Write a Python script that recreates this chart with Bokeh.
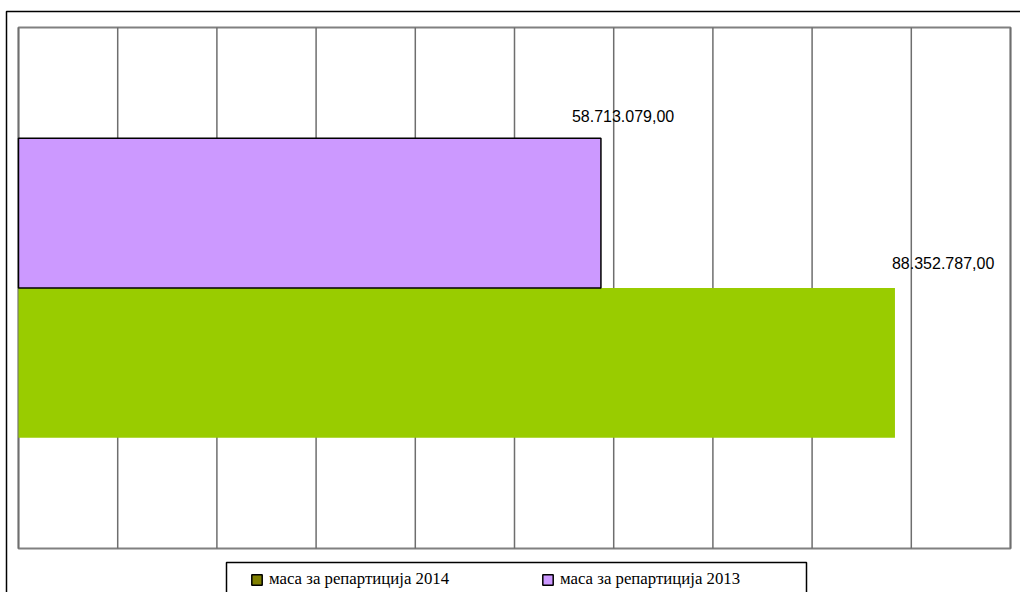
import numpy as np
from bokeh.plotting import figure
from bokeh.models import ColumnDataSource, Range1d, Legend, LegendItem
from bokeh.core.properties import value
from bokeh.embed import file_html
from bokeh.resources import INLINE

# ---- data ----
series_names = ["маса за репартиција 2014", "маса за репартиција 2013"]
categories = ["2014", "2013"]
amounts = [88352787.00, 58713079.00]
amount_labels = ["88.352.787,00", "58.713.079,00"]
bar_colors = ["#99CC00", "#CC99FF"]
legend_colors = ["#808000", "#CC99FF"]
x_max = 100_000_000
x_grid_ticks = [i * 10_000_000 for i in range(11)]

# ---- layout / styles ----
W, H = 1020, 592
PL, PR, PT, PB = 18, 1010, 27, 548          # plot-area box in pixels
cat_pad = 0.74                               # empty space above/below the bars (in bar heights)
bar_line_alpha = [0.0, 1.0]
label_dx = [-3, -29]
label_dy = [-100, -97]
legend_locs = [(250, 3), (541, 3)]

x_per_px = x_max / (PR - PL)
x_lo = -PL * x_per_px
x_hi = x_max + (W - PR) * x_per_px
y_top = len(categories) + 2 * cat_pad
y_per_px = y_top / (PB - PT)
y_lo = -(H - PB) * y_per_px
y_hi = y_top + PT * y_per_px


def X(px):
    return x_lo + px * x_per_px


def Y(py):
    return y_hi - py * y_per_px


y_pos = [cat_pad + i + 0.5 for i in range(len(categories))]

src = ColumnDataSource(dict(cat=categories, y=y_pos, amount=amounts, label=amount_labels,
                            color=bar_colors, line_alpha=bar_line_alpha,
                            dx=label_dx, dy=label_dy))

p = figure(width=W, height=H, output_backend="svg", toolbar_location=None,
           x_range=Range1d(x_lo, x_hi), y_range=Range1d(y_lo, y_hi),
           x_axis_location=None, y_axis_location=None,
           min_border_left=0, min_border_right=0, min_border_top=0, min_border_bottom=0)
p.background_fill_color = "white"
p.border_fill_color = "white"
p.outline_line_color = None
p.grid.visible = False

# plot area border
p.quad(left=[0], right=[x_max], bottom=[0], top=[y_top], fill_color="white",
       line_color="#808080", line_width=2)
# vertical gridlines
p.segment(x0=x_grid_ticks, x1=x_grid_ticks, y0=0, y1=y_top,
          line_color="#6e6e6e", line_width=1.5)

# bars
p.hbar(y="y", right="amount", left=0, height=1.0, source=src,
       fill_color="color", line_color="black", line_alpha="line_alpha", line_width=1.5)

# value labels
p.text(x="amount", y="y", text="label", x_offset="dx", y_offset="dy", source=src,
       text_font=value("Liberation Sans"), text_font_size="16px",
       text_align="left", text_baseline="middle", text_color="black")

# outer chart border (only top/left visible in the crop)
p.line(x=[X(6), X(6), X(1040)], y=[Y(620), Y(11), Y(11)], line_color="black", line_width=1.5)
# legend box
p.line(x=[X(226), X(226), X(806), X(806)], y=[Y(620), Y(562), Y(562), Y(620)],
       line_color="black", line_width=1.5)

# legend swatch proxies (legend colours differ from the bar colours; NaN rows draw nothing)
dummies = []
for c in legend_colors:
    r = p.hbar(y=np.array([np.nan]), right=np.array([np.nan]), left=0, height=1.0,
               fill_color=c, line_color="black", line_width=1.5)
    dummies.append(r)

for name, r, loc in zip(series_names, dummies, legend_locs):
    lg = Legend(items=[LegendItem(label=name, renderers=[r])], location=loc,
                orientation="horizontal", padding=0, margin=0, spacing=0,
                border_line_alpha=0, background_fill_alpha=0,
                glyph_width=13, glyph_height=13, label_height=13, label_standoff=6,
                label_text_font="Liberation Serif", label_text_font_size="16.8px",
                label_text_baseline="middle", label_text_color="black")
    p.add_layout(lg, "center")

open("out.html", "w").write(file_html(p, INLINE))
